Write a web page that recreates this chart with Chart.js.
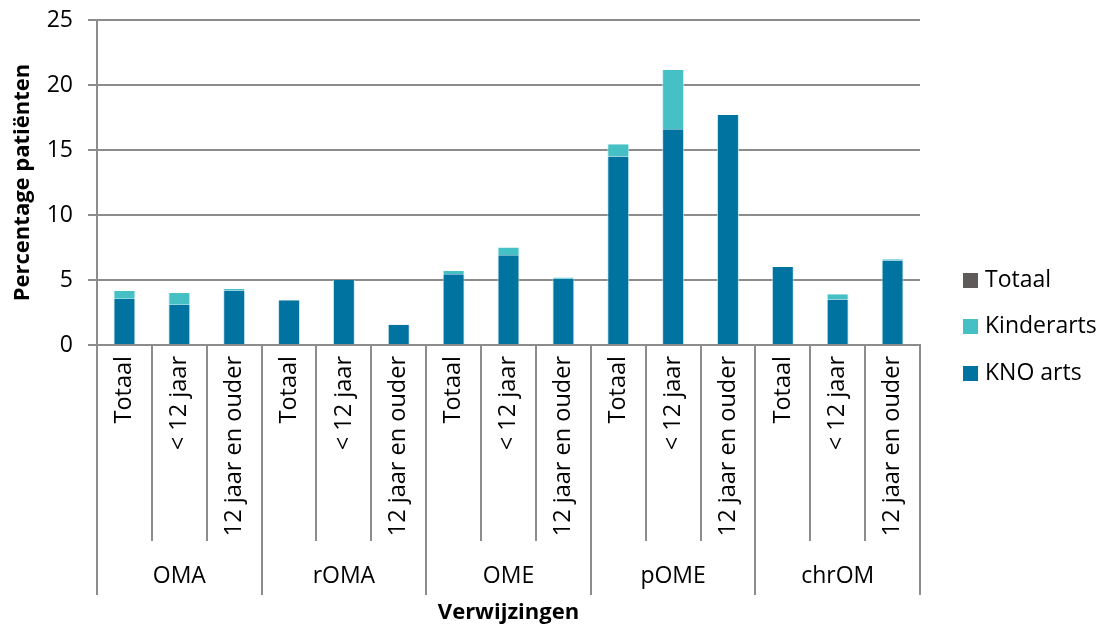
<!DOCTYPE html>
<html>
<head>
<meta charset="utf-8">
<script src="https://cdn.jsdelivr.net/npm/chart.js@4"></script>
<style>
  html, body { margin: 0; padding: 0; background: #fff; }
  #wrap { width: 1099px; height: 627px; }
</style>
</head>
<body>
<div id="wrap"><canvas id="c" width="1099" height="627"></canvas></div>
<script>
// Referral percentages per diagnosis group and age band
const groups = ['OMA', 'rOMA', 'OME', 'pOME', 'chrOM'];
const subCategories = ['Totaal', '< 12 jaar', '12 jaar en ouder'];
const knoArts    = [3.55, 3.1, 4.2, 3.45, 5.0, 1.55, 5.45, 6.9, 5.1, 14.5, 16.6, 17.7, 6.0, 3.5, 6.5];
const kinderarts = [0.6, 0.9, 0.1, 0, 0, 0, 0.25, 0.6, 0.1, 0.95, 4.55, 0, 0, 0.4, 0.1];
const totaal     = [0, 0, 0, 0, 0, 0, 0, 0, 0, 0, 0, 0, 0, 0, 0];
const yTicks = [0, 5, 10, 15, 20, 25];

const FONT = '"Open Sans", "Liberation Sans", sans-serif';
const GRID = '#8c8c8c';

const labels = [];
groups.forEach(g => subCategories.forEach(s => labels.push(g + ' ' + s)));

// Group separators, group names, axis title and legend
const groupAxisPlugin = {
  id: 'groupAxis',
  afterDraw(chart) {
    const ctx = chart.ctx;
    const x = chart.scales.x;
    const area = chart.chartArea;
    const n = labels.length;
    const step = (x.getPixelForValue(1) - x.getPixelForValue(0));
    ctx.save();
    ctx.strokeStyle = GRID;
    ctx.lineWidth = 2;
    for (let i = 0; i <= n; i++) {
      const px = Math.round(x.getPixelForValue(i) - step / 2);
      const isGroup = i % subCategories.length === 0;
      ctx.beginPath();
      ctx.moveTo(px, area.bottom);
      ctx.lineTo(px, isGroup ? 595 : 541);
      ctx.stroke();
    }
    ctx.fillStyle = '#000';
    ctx.font = '23px ' + FONT;
    ctx.textAlign = 'center';
    ctx.textBaseline = 'middle';
    groups.forEach((g, gi) => {
      const a = x.getPixelForValue(gi * 3);
      const b = x.getPixelForValue(gi * 3 + 2);
      ctx.fillText(g, (a + b) / 2, 576);
    });
    ctx.font = 'bold 22px ' + FONT;
    ctx.fillText('Verwijzingen', (area.left + area.right) / 2, 613);

    // legend, listed top-down in reverse stacking order
    const items = chart.data.datasets.slice().reverse();
    ctx.font = '23px ' + FONT;
    ctx.textAlign = 'left';
    items.forEach((ds, k) => {
      const cy = 280 + k * 46.5;
      ctx.fillStyle = ds.backgroundColor;
      ctx.fillRect(963, Math.round(cy - 7.5), 15, 15);
      ctx.fillStyle = '#000';
      ctx.fillText(ds.label, 985, cy);
    });
    ctx.restore();
  }
};

new Chart(document.getElementById('c'), {
  type: 'bar',
  data: {
    labels: labels,
    datasets: [
      { label: 'KNO arts',   data: knoArts,    backgroundColor: '#0073A0', borderColor: 'rgba(190,225,235,0.8)', borderWidth: { right: 1, left: 1 } },
      { label: 'Kinderarts', data: kinderarts, backgroundColor: '#45C1C6', borderColor: 'rgba(190,235,240,0.8)', borderWidth: { right: 1, left: 1 } },
      { label: 'Totaal',     data: totaal,     backgroundColor: '#5F5B5A' }
    ]
  },
  options: {
    responsive: false,
    animation: false,
    layout: { padding: { top: 20, right: 179, left: 0, bottom: 0 } },
    datasets: { bar: { barPercentage: 0.8, categoryPercentage: 0.5 } },
    plugins: { legend: { display: false }, tooltip: { enabled: false } },
    scales: {
      x: {
        stacked: true,
        grid: { display: false },
        border: { display: true, color: GRID, width: 2 },
        ticks: {
          autoSkip: false,
          minRotation: 90,
          maxRotation: 90,
          padding: 3,
          color: '#000',
          font: { family: FONT, size: 23.5 },
          callback: (v, i) => subCategories[i % subCategories.length]
        },
        afterFit(scale) {
          scale.height = 282;
          scale.paddingLeft = 0;
          scale.paddingRight = 0;
        }
      },
      y: {
        stacked: true,
        min: 0,
        max: 25,
        afterBuildTicks(scale) { scale.ticks = yTicks.map(v => ({ value: v })); },
        grid: { color: GRID, lineWidth: 2, tickLength: 9, drawTicks: true },
        border: { display: true, color: GRID, width: 2 },
        ticks: { padding: 15, color: '#000', font: { family: FONT, size: 23 } },
        title: {
          display: true,
          text: 'Percentage patiënten',
          color: '#000',
          font: { family: FONT, size: 22, weight: 'bold' },
          padding: { top: 10, bottom: 0 }
        },
        afterFit(scale) {
          scale.width = 97;
          scale.paddingTop = 0;
          scale.paddingBottom = 0;
        }
      }
    }
  },
  plugins: [groupAxisPlugin]
});
</script>
</body>
</html>
